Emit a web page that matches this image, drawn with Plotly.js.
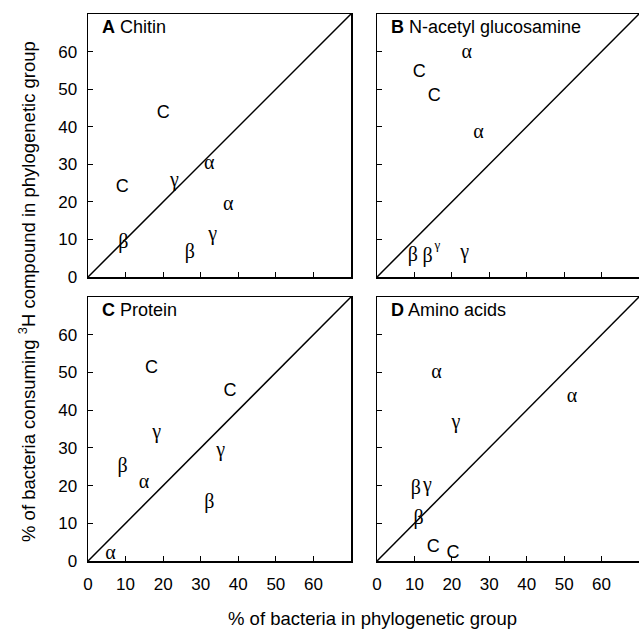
<!DOCTYPE html>
<html>
<head>
<meta charset="utf-8">
<script src="https://cdn.plot.ly/plotly-3.0.1.min.js"></script>
<style>html,body{margin:0;padding:0;background:#fff;}#chart{width:639px;height:630px;}</style>
</head>
<body>
<div id="chart"></div>
<script>
// Panel A: Chitin
const chitinLabels = ["C", "C", "γ", "α", "α", "γ", "β", "β"];
const chitinX = [20, 9.1, 23, 32.3, 37.3, 33.2, 27.1, 9.4];
const chitinY = [43.5, 23.9, 25.6, 30, 19.1, 11.2, 6.3, 9.0];
// Panel B: N-acetyl glucosamine
const nagLabels = ["α", "C", "C", "α", "β", "β", "γ", "γ"];
const nagX = [24.0, 11.3, 15.3, 27.1, 9.6, 13.5, 16.1, 23.4];
const nagY = [59.7, 54.3, 48.1, 38.4, 5.6, 5.4, 8.2, 6.3];
const nagSmall = [false, false, false, false, false, false, true, false];
// Panel C: Protein
const proteinLabels = ["C", "C", "γ", "γ", "β", "α", "β", "α"];
const proteinX = [16.9, 37.8, 18.3, 35.3, 9.2, 14.9, 32.3, 6.0];
const proteinY = [51.1, 44.9, 34.0, 29.3, 24.9, 20.6, 15.5, 1.9];
// Panel D: Amino acids
const aminoLabels = ["α", "α", "γ", "β", "γ", "β", "C", "C"];
const aminoX = [15.9, 52.1, 21.1, 10.4, 13.5, 11.1, 15.0, 20.3];
const aminoY = [49.8, 43.4, 36.7, 19.0, 19.9, 11.1, 3.6, 1.9];

const panelLetters = ["A", "B", "C", "D"];
const panelNames = ["Chitin", "N-acetyl glucosamine", "Protein", "Amino acids"];
const tickVals = [0, 10, 20, 30, 40, 50, 60];
const diag = [0, 70];

const panels = [
  {labels: chitinLabels, x: chitinX, y: chitinY},
  {labels: nagLabels, x: nagX, y: nagY, small: nagSmall},
  {labels: proteinLabels, x: proteinX, y: proteinY},
  {labels: aminoLabels, x: aminoX, y: aminoY}
];

const W = 639, H = 630;
const colL = [[88, 351], [377, 639]];
const rowT = [[14, 277], [297, 561]];
const SANS = "Liberation Sans, Arial, sans-serif";
const SERIF = "Liberation Serif, Times New Roman, serif";

const traces = [];
const layout = {
  width: W, height: H,
  margin: {l: 0, r: 0, t: 0, b: 0},
  paper_bgcolor: "#fff", plot_bgcolor: "#fff",
  showlegend: false,
  font: {family: SANS, color: "#000", size: 14},
  annotations: []
};

function fontFor(lbl) { return lbl === "C" ? SANS : SERIF; }
function sizeFor(lbl, small) { return small ? 13 : (lbl === "C" ? 18 : 20); }

panels.forEach((p, i) => {
  const r = Math.floor(i / 2), c = i % 2;
  const n = i + 1;
  const xa = "x" + (n === 1 ? "" : n), ya = "y" + (n === 1 ? "" : n);
  const xk = "xaxis" + (n === 1 ? "" : n), yk = "yaxis" + (n === 1 ? "" : n);
  traces.push({
    type: "scatter", mode: "lines", x: diag, y: diag, xaxis: xa, yaxis: ya,
    line: {color: "#000", width: 1.5}, hoverinfo: "skip"
  });
  traces.push({
    type: "scatter", mode: "text", x: p.x, y: p.y, text: p.labels, xaxis: xa, yaxis: ya,
    textposition: "middle center",
    textfont: {
      family: p.labels.map(fontFor),
      size: p.labels.map((l, k) => sizeFor(l, p.small ? p.small[k] : false)),
      color: "#000"
    },
    cliponaxis: false
  });
  const dx = colL[c], dy = rowT[r];
  layout[xk] = {
    domain: [dx[0] / W, dx[1] / W], range: [0, 70], anchor: ya,
    showline: true, mirror: true, linecolor: "#000", linewidth: 1.5,
    ticks: "inside", ticklen: 5, tickwidth: 1, tickcolor: "#000",
    tickvals: tickVals, showticklabels: r === 1, ticklabelstandoff: 7,
    showgrid: false, zeroline: false, fixedrange: true,
    tickfont: {size: 17, family: SANS}
  };
  layout[yk] = {
    domain: [(H - dy[1]) / H, (H - dy[0]) / H], range: [0, 70], anchor: xa,
    showline: true, mirror: true, linecolor: "#000", linewidth: 1.5,
    ticks: "inside", ticklen: 5, tickwidth: 1, tickcolor: "#000",
    tickvals: tickVals, showticklabels: c === 0, ticklabelstandoff: 6,
    showgrid: false, zeroline: false, fixedrange: true,
    tickfont: {size: 17, family: SANS}
  };
  layout.annotations.push({
    xref: xa + " domain", yref: ya + " domain", x: 0.045, y: 0.95,
    xanchor: "left", yanchor: "middle", showarrow: false,
    text: "<b>" + panelLetters[i] + "</b> " + panelNames[i],
    font: {size: 18, family: SANS, color: "#000"}
  });
});

layout.annotations.push({
  xref: "paper", yref: "paper", x: 372 / W, y: (H - 618) / H,
  xanchor: "center", yanchor: "middle", showarrow: false,
  text: "% of bacteria in phylogenetic group",
  font: {size: 18.5, family: SANS, color: "#000"}
});
layout.annotations.push({
  xref: "paper", yref: "paper", x: 27 / W, y: (H - 292) / H,
  xanchor: "center", yanchor: "middle", showarrow: false, textangle: -90,
  text: "% of bacteria consuming <sup>3</sup>H compound in phylogenetic group",
  font: {size: 18.5, family: SANS, color: "#000"}
});

Plotly.newPlot("chart", traces, layout, {displayModeBar: false, staticPlot: true});
</script>
</body>
</html>
